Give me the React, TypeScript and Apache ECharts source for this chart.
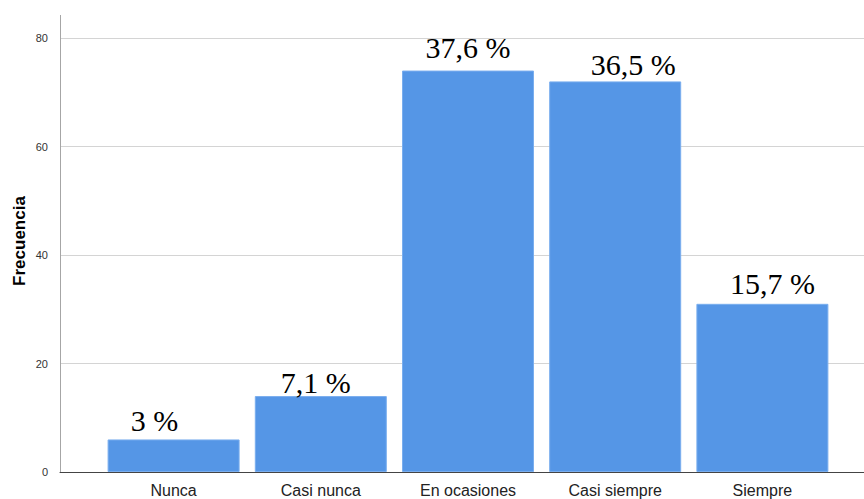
import React, { useEffect, useRef } from "react";
import * as echarts from "echarts";

const categories = ["Nunca", "Casi nunca", "En ocasiones", "Casi siempre", "Siempre"];
const frecuencias = [6, 14, 74, 72, 31];
const porcentajes = ["3 %", "7,1 %", "37,6 %", "36,5 %", "15,7 %"];
const labelOffsets = [
  [-19, 1],
  [-5, 6],
  [0, -3],
  [18, 3],
  [10, 0],
];
const yMin = 0;
const yMax = 80;
const yInterval = 20;
const yTitle = "Frecuencia";

export default function App() {
  const ref = useRef<HTMLDivElement>(null);
  useEffect(() => {
    if (!ref.current) return;
    const chart = echarts.init(ref.current, null, { renderer: "svg" });
    const option: any = {
      animation: false,
      backgroundColor: "#ffffff",
      grid: [
        { left: 60, right: 0, top: 38, bottom: 27 },
        { left: 100, right: 28, top: 38, bottom: 27 },
      ],
      xAxis: [
        {
          type: "value",
          gridIndex: 0,
          min: 0,
          max: 1,
          axisLabel: { show: false },
          axisTick: { show: false },
          splitLine: { show: false },
          axisLine: { show: true, lineStyle: { color: "#444444", width: 1 } },
        },
        {
          type: "category",
          gridIndex: 1,
          data: categories,
          axisLine: { show: false },
          axisTick: { show: false },
          axisLabel: {
            color: "#222222",
            fontFamily: "Liberation Sans, Arial, sans-serif",
            fontSize: 16,
            margin: 10,
          },
        },
      ],
      yAxis: [
        {
          type: "value",
          gridIndex: 0,
          min: yMin,
          max: yMax,
          interval: yInterval,
          axisLine: { show: true, lineStyle: { color: "#a6a6a6", width: 1 } },
          axisTick: { show: false },
          axisLabel: {
            color: "#333333",
            fontFamily: "Liberation Sans, Arial, sans-serif",
            fontSize: 11,
            margin: 12,
          },
          splitLine: { show: true, lineStyle: { color: "#d4d4d4", width: 1 } },
        },
        {
          type: "value",
          gridIndex: 1,
          min: yMin,
          max: yMax,
          interval: yInterval,
          show: false,
          splitLine: { show: false },
        },
      ],
      graphic: [
        {
          type: "line",
          shape: { x1: 60.5, y1: 15, x2: 60.5, y2: 38 },
          style: { stroke: "#a6a6a6", lineWidth: 1 },
          z: 10,
        },
        {
          type: "text",
          x: 19,
          y: 241,
          rotation: Math.PI / 2,
          style: {
            text: yTitle,
            fill: "#000000",
            font: "bold 17px 'Liberation Sans', Arial, sans-serif",
            textAlign: "center",
            textVerticalAlign: "middle",
          },
        },
      ],
      series: [
        {
          type: "bar",
          xAxisIndex: 1,
          yAxisIndex: 1,
          barWidth: 132,
          itemStyle: { color: "#5596e6", borderColor: "#7aaeee", borderWidth: 1 },
          data: frecuencias.map((v, i) => ({
            value: v,
            label: { offset: labelOffsets[i] },
          })),
          label: {
            show: true,
            position: "top",
            distance: 5,
            color: "#000000",
            fontFamily: "Liberation Serif, 'Times New Roman', serif",
            fontSize: 30,
            formatter: (p: any) => porcentajes[p.dataIndex],
          },
        },
      ],
    };
    chart.setOption(option);
    return () => chart.dispose();
  }, []);
  return <div ref={ref} style={{ width: 864, height: 499, position: "fixed", left: 0, top: 0 }} />;
}
